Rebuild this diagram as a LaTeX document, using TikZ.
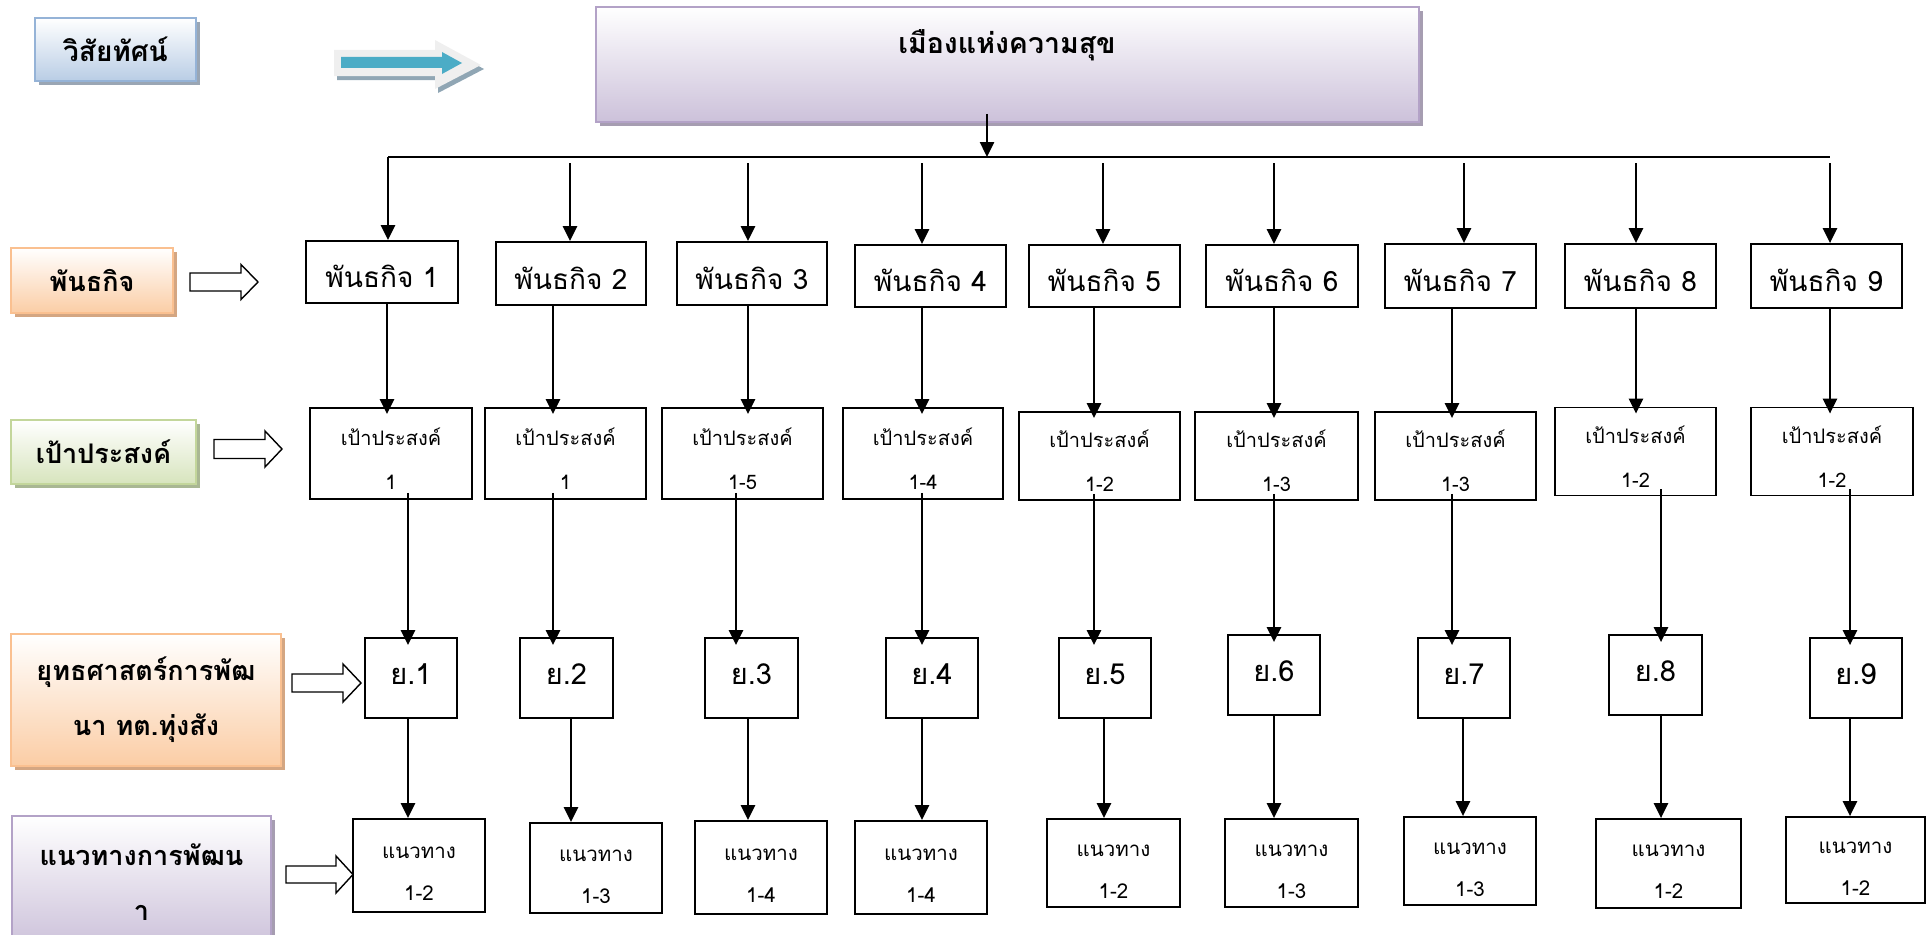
\documentclass[tikz,border=0pt]{standalone}
\usepackage{fontspec}
\setmainfont[Script=Thai]{Loma}
\usetikzlibrary{arrows.meta}
\definecolor{blueF}{HTML}{B9CDE5}
\definecolor{blueB}{HTML}{95B3D7}
\definecolor{blueS}{HTML}{9AA6B4}
\definecolor{orF}{HTML}{FBCDA5}
\definecolor{orB}{HTML}{FAC090}
\definecolor{orS}{HTML}{D4A682}
\definecolor{grF}{HTML}{D7E4BD}
\definecolor{grB}{HTML}{C3D69B}
\definecolor{grS}{HTML}{A9B793}
\definecolor{puF}{HTML}{CCC1DA}
\definecolor{puB}{HTML}{B3A2C7}
\definecolor{puS}{HTML}{A69DB1}
\definecolor{tealA}{HTML}{4BACC6}
\definecolor{arrS}{HTML}{90A6B4}
\definecolor{arrO}{HTML}{EFEFEF}
\newcommand\lblnode[7]{%
  \fill[#2S] (#3-#5/2+4,#4-#6/2+4) rectangle (#3+#5/2+4,#4+#6/2+4);
  \node[lbl=#2, minimum width=#5pt, minimum height=#6pt] (#1) at (#3,#4) {#7};}
% lowered text block (keeps the node's centring box unchanged)
\newcommand\lw[2]{\raisebox{-#1}[\height][\depth]{\begin{tabular}{@{}c@{}}#2\end{tabular}}}
\newcommand\cb[8]{\node[cbox, #7, minimum width=#4pt, minimum height=#5pt] (#1) at (#2,#3) {\lw{#8}{#6}};}
\newcommand\hollowarrow[6]{%
  \draw[line width=1.4pt, fill=white] (#1,#4-#5) -- (#2,#4-#5) -- (#2,#4-#6) -- (#3,#4)
     -- (#2,#4+#6) -- (#2,#4+#5) -- (#1,#4+#5) -- cycle;}
\begin{document}
\begin{tikzpicture}[x=1pt,y=-1pt,
  lbl/.style={draw=#1B, line width=1.6pt, top color=white, bottom color=#1F,
    inner sep=0pt, align=center, font=\fontsize{27}{55}\selectfont\bfseries},
  cbox/.style={draw, line width=1.8pt, fill=white, inner sep=0pt, align=center},
  pf/.style={font=\fontsize{28}{30}\selectfont},
  gf/.style={font=\fontsize{20}{44}\selectfont},
  sf/.style={font=\fontsize{29}{30}\selectfont},
  nf/.style={font=\fontsize{20.5}{42}\selectfont},
  arr/.style={line width=2.5pt, -{Triangle[length=15pt,width=14pt]}}]
\useasboundingbox (0,0) rectangle (1932,934);

% left labels
\lblnode{vis}{blue}{115.5}{49.5}{161}{63}{\fontsize{28}{30}\selectfont วิสัยทัศน์}
\lblnode{lp}{or}{92}{280.5}{162}{65}{พันธกิจ}
\lblnode{lg}{gr}{103.5}{452}{185}{64}{เป้าประสงค์}
\lblnode{ls}{or}{146}{700}{270}{132}{ยุทธศาสตร์การพัฒ\\นา ทต.ทุ่งสัง}
\lblnode{ln}{pu}{141.5}{882}{259}{132}{แนวทางการพัฒน\\า}

% top box
\lblnode{top}{pu}{1007.5}{64.5}{823}{115}{}
\node[font=\fontsize{28.5}{30}\selectfont\bfseries, inner sep=0pt] (toptext) at (1007,45) {เมืองแห่งความสุข};

% blue arrow
\fill[arrS] (337,54) -- (438,54) -- (438,44) -- (484,69) -- (438,93) -- (438,80) -- (337,80) -- cycle;
\fill[arrO] (334,50) -- (435,50) -- (435,40) -- (481,65) -- (435,89) -- (435,76) -- (334,76) -- cycle;
\fill[tealA] (341,57) -- (442,57) -- (442,52) -- (462,63) -- (442,74) -- (442,68) -- (341,68) -- cycle;

% hollow arrows
\hollowarrow{190}{241}{258}{282}{9}{17.5}
\hollowarrow{214}{265}{282}{449}{9.5}{18}
\hollowarrow{292}{343}{361}{683}{9}{19}
\hollowarrow{286}{336}{353}{874.5}{8.5}{18.5}

% boxes
\cb{p1}{382}{272}{152}{62}{พันธกิจ 1}{pf}{9pt}
\cb{p2}{571}{273.5}{150}{63}{พันธกิจ 2}{pf}{9pt}
\cb{p3}{752}{273.5}{150}{63}{พันธกิจ 3}{pf}{9pt}
\cb{p4}{930.5}{276}{151}{62}{พันธกิจ 4}{pf}{9pt}
\cb{p5}{1104.5}{276}{151}{62}{พันธกิจ 5}{pf}{9pt}
\cb{p6}{1282}{276}{152}{62}{พันธกิจ 6}{pf}{9pt}
\cb{p7}{1460.5}{276}{151}{64}{พันธกิจ 7}{pf}{9pt}
\cb{p8}{1640.5}{276}{151}{64}{พันธกิจ 8}{pf}{9pt}
\cb{p9}{1826.5}{276}{151}{64}{พันธกิจ 9}{pf}{9pt}

\cb{g1}{391}{453.5}{162}{91}{เป้าประสงค์\\1}{gf}{5pt}
\cb{g2}{565.5}{453.5}{161}{91}{เป้าประสงค์\\1}{gf}{5pt}
\cb{g3}{742.5}{453.5}{161}{91}{เป้าประสงค์\\1-5}{gf}{5pt}
\cb{g4}{923}{453.5}{160}{91}{เป้าประสงค์\\1-4}{gf}{5pt}
\cb{g5}{1099.5}{456}{161}{86}{เป้าประสงค์\\1-2}{gf}{5pt}
\cb{g6}{1276.5}{456}{163}{86}{เป้าประสงค์\\1-3}{gf}{5pt}
\cb{g7}{1455.5}{456}{161}{86}{เป้าประสงค์\\1-3}{gf}{5pt}
\cb{g8}{1635.5}{451.5}{161}{87}{เป้าประสงค์\\1-2}{gf}{5pt}
\cb{g9}{1832}{451.5}{162}{87}{เป้าประสงค์\\1-2}{gf}{5pt}

\cb{s1}{411}{678}{92}{80}{ย.1}{sf}{0pt}
\cb{s2}{566.5}{678}{93}{80}{ย.2}{sf}{0pt}
\cb{s3}{751.5}{678}{93}{80}{ย.3}{sf}{0pt}
\cb{s4}{932}{678}{92}{80}{ย.4}{sf}{0pt}
\cb{s5}{1105}{678}{92}{80}{ย.5}{sf}{0pt}
\cb{s6}{1274}{675}{92}{80}{ย.6}{sf}{0pt}
\cb{s7}{1464}{678}{92}{80}{ย.7}{sf}{0pt}
\cb{s8}{1655.5}{675}{93}{80}{ย.8}{sf}{0pt}
\cb{s9}{1856}{678}{92}{80}{ย.9}{sf}{0pt}

\cb{n1}{419}{865.5}{132}{93}{แนวทาง\\1-2}{nf}{6pt}
\cb{n2}{596}{868}{132}{90}{แนวทาง\\1-3}{nf}{6pt}
\cb{n3}{761}{867.5}{132}{93}{แนวทาง\\1-4}{nf}{6pt}
\cb{n4}{921}{867.5}{132}{93}{แนวทาง\\1-4}{nf}{6pt}
\cb{n5}{1113.5}{863}{133}{88}{แนวทาง\\1-2}{nf}{6pt}
\cb{n6}{1291.5}{863}{133}{88}{แนวทาง\\1-3}{nf}{6pt}
\cb{n7}{1470}{861}{132}{88}{แนวทาง\\1-3}{nf}{6pt}
\cb{n8}{1668.5}{863.5}{145}{89}{แนวทาง\\1-2}{nf}{6pt}
\cb{n9}{1855.5}{860}{139}{86}{แนวทาง\\1-2}{nf}{6pt}

% connectors
\coordinate (busL) at (388,157);
\coordinate (busR) at (1830,157);
\coordinate (ctop) at (987,0);
\draw[arr, shorten <=-9pt] (ctop |- top.south) -- (ctop |- busL);
\draw[line width=2pt] (busL) -- (busR);
\draw[arr] (busL) -- (busL |- p1.north);
\foreach \i/\x in {2/570,3/748,4/922,5/1103,6/1274,7/1464,8/1636,9/1830}{
  \coordinate (ca\i) at (\x,163);
  \draw[arr] (ca\i) -- (ca\i |- p\i.north);}
\foreach \i/\x in {1/387,2/553,3/748,4/922,5/1094,6/1274,7/1452,8/1636,9/1830}{
  \coordinate (cb\i) at (\x,0);
  \draw[arr, shorten >=-7pt] (cb\i |- p\i.south) -- (cb\i |- g\i.north);}
\foreach \i/\x in {1/408,2/553,3/736,4/922,5/1094,6/1274,7/1452,8/1661,9/1850}{
  \coordinate (cc\i) at (\x,0);
  \draw[arr, shorten <=-7pt, shorten >=-8pt] (cc\i |- g\i.south) -- (cc\i |- s\i.north);}
\foreach \i/\x in {1/408,2/571,3/748,4/922,5/1104,6/1274,7/1463,8/1661,9/1850}{
  \coordinate (cd\i) at (\x,0);
  \draw[arr] (cd\i |- s\i.south) -- (cd\i |- n\i.north);}
\end{tikzpicture}
\end{document}
